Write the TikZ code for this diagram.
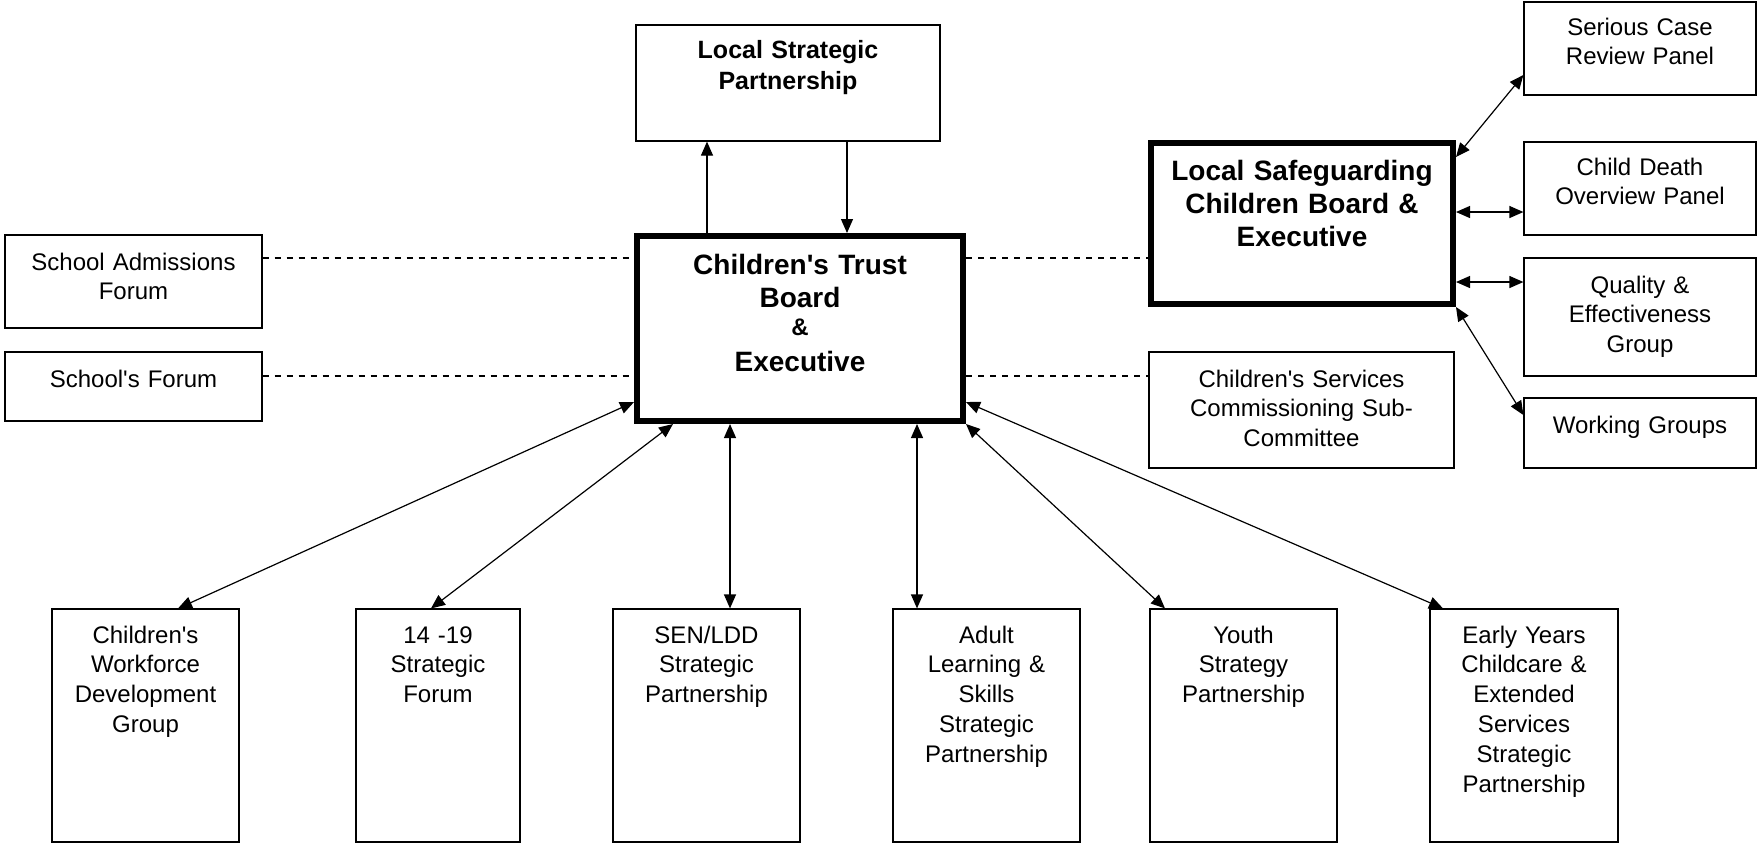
\documentclass[tikz,border=0pt]{standalone}
\usepackage{fontspec}
\newfontfamily\arialx{Liberation Sans}
\usetikzlibrary{arrows.meta}
\begin{document}
\begin{tikzpicture}[x=0.5pt,y=-0.5pt,
  box/.style={draw, line width=0.6pt, inner sep=0pt},
  thickbox/.style={draw, line width=3pt, inner sep=0pt},
  txt/.style={anchor=base, align=center, text width=170pt, inner sep=0pt,
    font=\arialx\fontsize{12}{14.9}\selectfont},
  txtb/.style={anchor=base, align=center, text width=170pt, inner sep=0pt,
    font=\arialx\bfseries\fontsize{12.5}{15.5}\selectfont},
  txtbig/.style={anchor=base, align=center, text width=170pt, inner sep=0pt,
    font=\arialx\bfseries\fontsize{14}{16.7}\selectfont},
  arrA/.style={line width=0.6pt, ->, >={Triangle[length=7pt,width=6pt]}},
  arrB/.style={line width=0.6pt, <->, >={Triangle[length=7pt,width=6pt]}},
  dashline/.style={line width=0.6pt, dash pattern=on 3pt off 3pt}
]
\useasboundingbox (0,0) rectangle (1758,843);

% boxes
\node[box, minimum width=152pt, minimum height=58pt] (lsp) at (788,83) {};
\node[thickbox, minimum width=163pt, minimum height=92.5pt] (ct) at (800,328.5) {};
\node[box, minimum width=128.5pt, minimum height=46.5pt] (saf) at (133.5,281.5) {};
\node[box, minimum width=128.5pt, minimum height=34.5pt] (sf) at (133.5,386.5) {};
\node[thickbox, minimum width=151pt, minimum height=80.5pt] (lscb) at (1302,223.5) {};
\node[box, minimum width=152.5pt, minimum height=58pt] (csc) at (1301.5,410) {};
\node[box, minimum width=116pt, minimum height=46.5pt] (scr) at (1640,48.5) {};
\node[box, minimum width=116pt, minimum height=46.5pt] (cdo) at (1640,188.5) {};
\node[box, minimum width=116pt, minimum height=59pt] (qeg) at (1640,317) {};
\node[box, minimum width=116pt, minimum height=35pt] (wg) at (1640,433) {};
\node[box, minimum width=93.5pt, minimum height=116.5pt] (cwd) at (145.5,725.5) {};
\node[box, minimum width=82pt, minimum height=116.5pt] (f1419) at (438,725.5) {};
\node[box, minimum width=93.5pt, minimum height=116.5pt] (sen) at (706.5,725.5) {};
\node[box, minimum width=93.5pt, minimum height=116.5pt] (als) at (986.5,725.5) {};
\node[box, minimum width=93.5pt, minimum height=116.5pt] (ysp) at (1243.5,725.5) {};
\node[box, minimum width=94pt, minimum height=116.5pt] (eyc) at (1524,725.5) {};

% texts
\node[txtb] (lspt) at (788,58) {Local Strategic\\Partnership};
\node[txtbig] (ctt) at (800,274) {Children's Trust\\Board\\[-2.5pt]{\fontsize{12}{14}\selectfont\&}\\[1pt]Executive};
\node[txtbig] (lscbt) at (1302,180) {Local Safeguarding\\Children Board \&\\Executive};
\node[txt] (saft) at (133.5,270) {School Admissions\\Forum};
\node[txt] (sft) at (133.5,387) {School's Forum};
\node[txt] (csct) at (1301.5,387) {Children's Services\\Commissioning Sub-\\Committee};
\node[txt] (scrt) at (1640,35) {Serious Case\\Review Panel};
\node[txt] (cdot) at (1640,175) {Child Death\\Overview Panel};
\node[txt] (qegt) at (1640,293) {Quality \&\\Effectiveness\\Group};
\node[txt] (wgt) at (1640,433) {Working Groups};
\node[txt] (cwdt) at (145.5,643) {Children's\\Workforce\\Development\\Group};
\node[txt] (f1419t) at (438,643) {14 -19\\Strategic\\Forum};
\node[txt] (sent) at (706.5,643) {SEN/LDD\\Strategic\\Partnership};
\node[txt] (alst) at (986.5,643) {Adult\\Learning \&\\Skills\\Strategic\\Partnership};
\node[txt] (yspt) at (1243.5,643) {Youth\\Strategy\\Partnership};
\node[txt] (eyct) at (1524,643) {Early Years\\Childcare \&\\Extended\\Services\\Strategic\\Partnership};

% helper coordinates
\coordinate (hA) at (0,258);
\coordinate (hB) at (0,376);
\coordinate (hC) at (0,157);
\coordinate (hD) at (0,75);
\coordinate (hE) at (0,212);
\coordinate (hF) at (0,282);
\coordinate (hG) at (0,415);
\coordinate (hH) at (0,402);
\coordinate (v707) at (707,0);
\coordinate (v847) at (847,0);
\coordinate (v178) at (178,0);
\coordinate (v673) at (673,0);
\coordinate (v431) at (431,0);
\coordinate (v730) at (730,0);
\coordinate (v917) at (917,0);
\coordinate (v1165) at (1165,0);
\coordinate (v1443) at (1443,0);

% connectors
\draw[arrA] (ct.north -| v707) -- (lsp.south -| v707);
\draw[arrA] (lsp.south -| v847) -- (ct.north -| v847);
\draw[dashline] (saf.east |- hA) -- (ct.west |- hA);
\draw[dashline] (sf.east |- hB) -- (ct.west |- hB);
\draw[dashline] (ct.east |- hA) -- (lscb.west |- hA);
\draw[dashline] (ct.east |- hB) -- (csc.west |- hB);
\draw[arrB] (lscb.east |- hC) -- (scr.west |- hD);
\draw[arrB] (lscb.east |- hE) -- (cdo.west |- hE);
\draw[arrB] (lscb.east |- hF) -- (qeg.west |- hF);
\draw[arrB] (lscb.south east) -- (wg.west |- hG);
\draw[arrB] (ct.west |- hH) -- (cwd.north -| v178);
\draw[arrB] (ct.south -| v673) -- (f1419.north -| v431);
\draw[arrB] (ct.south -| v730) -- (sen.north -| v730);
\draw[arrB] (ct.south -| v917) -- (als.north -| v917);
\draw[arrB] (ct.south east) -- (ysp.north -| v1165);
\draw[arrB] (ct.east |- hH) -- (eyc.north -| v1443);
\end{tikzpicture}
\end{document}
